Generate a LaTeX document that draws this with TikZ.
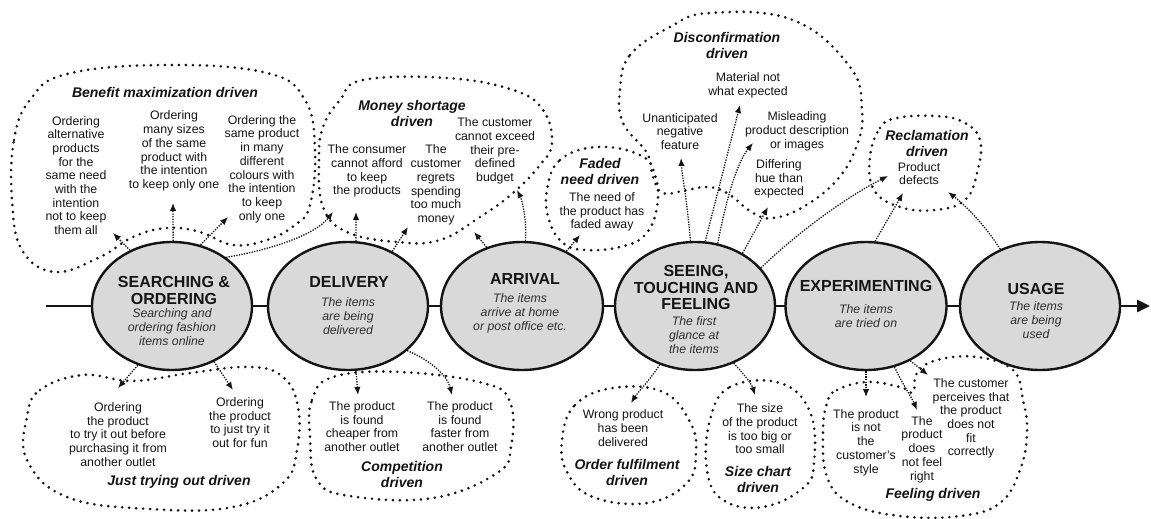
\documentclass[tikz,border=0pt]{standalone}
\usepackage{fontspec}
\setmainfont{Liberation Sans}
\usetikzlibrary{shapes.geometric,arrows.meta}
\definecolor{ink}{HTML}{141414}
\definecolor{subink}{HTML}{2E2E2E}
\definecolor{stfill}{HTML}{D9D9D9}
\begin{document}
\begin{tikzpicture}[x=1pt,y=-1pt,
  blob/.style={draw=ink, line width=2.9pt, line cap=round, dash pattern=on 0pt off 7pt},
  conn/.style={draw=ink, line width=1.3pt, dash pattern=on 1.3pt off 1.3pt, -{Latex[length=8pt,width=6.5pt]}},
  stage/.style={ellipse, draw=ink, line width=2.4pt, fill=stfill, minimum height=128pt, inner sep=0pt},
  body/.style={font=\fontsize{12.3}{13.7}\selectfont, align=center, inner sep=0pt, text=ink},
  ttl/.style={font=\fontsize{14}{16}\selectfont\bfseries\itshape, align=center, inner sep=0pt, text=ink},
  sname/.style={font=\fontsize{16}{16.8}\selectfont\bfseries, align=center, inner sep=0pt, text=ink},
  ssub/.style={font=\fontsize{12.3}{14}\selectfont\itshape, align=center, inner sep=0pt, text=subink}]
\useasboundingbox (0,0) rectangle (1151,519);
\fill[white] (0,0) rectangle (1151,519);

% ---------- dotted group outlines ----------
\draw[blob] plot[smooth cycle, tension=0.7] coordinates {(12,200) (14,140) (30,100) (67,74) (167,65) (267,73) (305,100) (315,150) (310,205) (295,225) (267,240) (233,245) (200,232) (167,228) (133,237) (100,257) (55,272) (22,250)};
\draw[blob] plot[smooth cycle, tension=0.7] coordinates {(340,100) (363,80) (447,78) (513,90) (543,110) (552,143) (540,165) (513,193) (480,217) (440,240) (397,242) (347,232) (323,207) (319,160) (323,127)};
\draw[blob] plot[smooth cycle, tension=0.7] coordinates {(547,190) (560,160) (597,147) (640,155) (655,175) (657,207) (645,235) (620,247) (585,250) (563,243) (549,220)};
\draw[blob] plot[smooth cycle, tension=0.7] coordinates {(620,90) (630,55) (670,27) (710,13) (793,20) (850,67) (862,110) (857,145) (837,180) (803,207) (773,218) (753,213) (727,193) (707,187) (687,190) (663,193) (653,177) (647,153) (623,123)};
\draw[blob] plot[smooth cycle, tension=0.7] coordinates {(870,157) (880,128) (897,118) (935,116) (963,122) (980,140) (977,173) (965,200) (935,210) (900,207) (874,190)};
\draw[blob] plot[smooth cycle, tension=0.7] coordinates {(27,417) (40,390) (83,375) (133,381) (190,373) (250,367) (283,377) (298,407) (297,450) (283,483) (233,507) (150,509) (67,497) (27,460)};
\draw[blob] plot[smooth cycle, tension=0.7] coordinates {(310,437) (312,400) (333,377) (400,372) (483,383) (510,402) (511,447) (497,473) (433,498) (350,496) (317,480)};
\draw[blob] plot[smooth cycle, tension=0.7] coordinates {(562,440) (575,405) (613,388) (663,392) (690,422) (696,452) (687,483) (647,503) (593,497) (567,472)};
\draw[blob] plot[smooth cycle, tension=0.7] coordinates {(710,420) (730,387) (780,383) (810,412) (814,463) (803,488) (763,507) (723,500) (707,470)};
\draw[blob] plot[smooth cycle, tension=0.7] coordinates {(827,403) (837,390) (867,382) (900,387) (913,392) (917,373) (937,360) (977,357) (1013,370) (1023,400) (1027,433) (1020,470) (1000,503) (960,516) (900,516) (850,503) (827,477) (823,433)};

% ---------- main time line ----------
\coordinate (L0) at (46,306);
\coordinate (L1) at (1150,306);
\draw[draw=ink, line width=2.8pt, -{Triangle[length=13pt,width=12pt]}] (L0) -- (L1);

% ---------- stages ----------
\node[stage, minimum width=160pt] (S) at (172,306) {};
\node[stage, minimum width=160pt] (D) at (348,306) {};
\node[stage, minimum width=162pt] (A) at (522,306) {};
\node[stage, minimum width=160pt] (G) at (695,306) {};
\node[stage, minimum width=161pt] (E) at (866,306) {};
\node[stage, minimum width=160pt] (U) at (1040,306) {};

\node[sname] (Sn) at (174,290.5) {SEARCHING \&\\ORDERING};
\node[ssub] (Ss) at (172,327) {Searching and\\ordering fashion\\items online};
\node[sname] (Dn) at (349,282) {DELIVERY};
\node[ssub] (Ds) at (348,316.5) {The items\\are being\\delivered};
\node[sname] (An) at (525,279) {ARRIVAL};
\node[ssub] (As) at (520,313) {The items\\arrive at home\\or post office etc.};
\node[sname] (Gn) at (696,287.5) {SEEING,\\TOUCHING AND\\FEELING};
\node[ssub] (Gs) at (694,335.5) {The first\\glance at\\the items};
\node[sname] (En) at (866,286) {EXPERIMENTING};
\node[ssub] (Es) at (866,316) {The items\\are tried on};
\node[sname] (Un) at (1036,289) {USAGE};
\node[ssub] (Us) at (1036,320.5) {The items\\are being\\used};

% ---------- group texts ----------
\node[ttl] (bmT) at (165,92) {Benefit maximization driven};
\node[body] (bm1) at (76,175.5) {Ordering\\alternative\\products\\for the\\same need\\with the\\intention\\not to keep\\them all};
\node[body] (bm2) at (174,151) {Ordering\\many sizes\\of the same\\product with\\the intention\\to keep only one};
\node[body] (bm3) at (262,169) {Ordering the\\same product\\in many\\different\\colours with\\the intention\\to keep\\only one};

\node[ttl] (msT) at (412,113) {Money shortage\\driven};
\node[body] (ms1) at (367,171) {The consumer\\cannot afford\\to keep\\the products};
\node[body] (ms2) at (436,185) {The\\customer\\regrets\\spending\\too much\\money};
\node[body] (ms3) at (495,151) {The customer\\cannot exceed\\their pre-\\defined\\budget};

\node[ttl] (fnT) at (600,171) {Faded\\need driven};
\node[body] (fn1) at (602,212) {The need of\\the product has\\faded away};

\node[ttl] (dcT) at (727,45) {Disconfirmation\\driven};
\node[body] (dc1) at (748,85.5) {Material not\\what expected};
\node[body] (dc2) at (680,131.5) {Unanticipated\\negative\\feature};
\node[body] (dc3) at (797,131.5) {Misleading\\product description\\or images};
\node[body] (dc4) at (779,179) {Differing\\hue than\\expected};

\node[ttl] (rcT) at (927,143) {Reclamation\\driven};
\node[body] (rc1) at (919,173.5) {Product\\defects};

\node[body] (jt1) at (118,434.5) {Ordering\\the product\\to try it out before\\purchasing it from\\another outlet};
\node[body] (jt2) at (240,422.5) {Ordering\\the product\\to just try it\\out for fun};
\node[ttl] (jtT) at (179,482) {Just trying out driven};

\node[body] (cp1) at (362,426.5) {The product\\is found\\cheaper from\\another outlet};
\node[body] (cp2) at (460,426.5) {The product\\is found\\faster from\\another outlet};
\node[ttl] (cpT) at (402,474.5) {Competition\\driven};

\node[body] (of1) at (623,428) {Wrong product\\has been\\delivered};
\node[ttl] (ofT) at (627,472) {Order fulfilment\\driven};

\node[body] (sc1) at (760,429) {The size\\of the product\\is too big or\\too small};
\node[ttl] (scT) at (758,479) {Size chart\\driven};

\node[body] (fe1) at (866,442.5) {The product\\is not\\the\\customer's\\style};
\node[body] (fe2) at (922,449.5) {The\\product\\does\\not feel\\right};
\node[body] (fe3) at (971,418.5) {The customer\\perceives that\\the product\\does not\\fit\\correctly};
\node[ttl] (feT) at (933,495) {Feeling driven};

% ---------- arrow tips ----------
\coordinate (t1) at (113,233);
\coordinate (t2) at (173,203);
\coordinate (t3) at (228,217);
\coordinate (t4) at (333,212);
\coordinate (t5) at (118,388);
\coordinate (t6) at (233,390);
\coordinate (t7) at (356,212);
\coordinate (t8) at (408,227);
\coordinate (t9) at (358,395);
\coordinate (t10) at (452,395);
\coordinate (t11) at (474,232);
\coordinate (t12) at (517,190);
\coordinate (t13) at (580,235);
\coordinate (t14) at (681,158);
\coordinate (t15) at (740,105);
\coordinate (t16) at (753,143);
\coordinate (t17) at (768,207);
\coordinate (t18) at (888,176);
\coordinate (t19) at (631,403);
\coordinate (t20) at (755,395);
\coordinate (t21) at (903,193);
\coordinate (t22) at (866,397);
\coordinate (t23) at (917,410);
\coordinate (t24) at (928,375);
\coordinate (t25) at (948,192);

% ---------- connectors ----------
\draw[conn] (S.127) -- (t1);
\draw[conn] (S.89) -- (t2);
\draw[conn] (S.65) -- (t3);
\draw[conn] (S.42) .. controls (270,250) and (315,235) .. (t4);
\draw[conn] (S.240) -- (t5);
\draw[conn] (S.307) -- (t6);
\draw[conn] (D.83) -- (t7);
\draw[conn] (D.51) -- (t8);
\draw[conn] (D.277) -- (t9);
\draw[conn] (D.323) .. controls (430,360) and (447,375) .. (t10);
\draw[conn] (A.121) -- (t11);
\draw[conn] (A.87) .. controls (527,220) and (522,200) .. (t12);
\draw[conn] (A.51) -- (t13);
\draw[conn] (G.94) .. controls (687,200) and (682,175) .. (t14);
\draw[conn] (G.81) -- (t15);
\draw[conn] (G.70) .. controls (724,210) and (735,165) .. (t16);
\draw[conn] (G.48) -- (t17);
\draw[conn] (G.30) .. controls (800,230) and (850,195) .. (t18);
\draw[conn] (G.239) .. controls (650,380) and (638,392) .. (t19);
\draw[conn] (G.304) .. controls (745,375) and (752,385) .. (t20);
\draw[conn] (E.82) -- (t21);
\draw[conn] (E.270) -- (t22);
\draw[conn] (E.295) .. controls (903,385) and (912,398) .. (t23);
\draw[conn] (E.309) -- (t24);
\draw[conn] (U.125) .. controls (985,225) and (965,205) .. (t25);
\end{tikzpicture}
\end{document}
